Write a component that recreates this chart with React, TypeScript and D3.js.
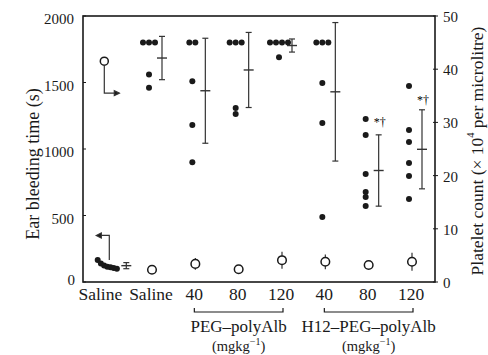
import * as d3 from "d3";

// category labels along the bottom
const groups = ["Saline", "Saline", "40", "80", "120", "40", "80", "120"];

// ear bleeding time (s), one array per group, capped at 1800 s
const bleedTimes: number[][] = [
  [165, 140, 125, 115, 105, 100, 110],
  [1800, 1800, 1800, 1560, 1460],
  [1800, 1800, 1510, 1180, 900],
  [1800, 1800, 1800, 1308, 1263],
  [1800, 1800, 1800, 1800, 1690],
  [1800, 1800, 1800, 1496, 1195, 489],
  [1226, 1105, 812, 677, 639, 571],
  [1474, 1143, 1053, 895, 797, 624],
];

// platelet count (x10^4 per microlitre)
const plateletMean = [41.5, 2.3, 3.4, 2.4, 4.1, 3.8, 3.2, 3.8];
const plateletSd = [0, 0.4, 0.9, 0.6, 1.4, 1.2, 0.5, 1.5];

const leftTicks = [0, 500, 1000, 1500, 2000];
const rightTicks = [0, 10, 20, 30, 40, 50];

// groups marked * †
const marked = [6, 7];

const brackets = [
  { label: "PEG–polyAlb", from: 2, to: 4 },
  { label: "H12–PEG–polyAlb", from: 5, to: 7 },
];

const W = 488;
const H = 355;
const box = { l: 83, r: 435, t: 16, b: 282 };
const ink = "#1a1a1a";
const font = "'Liberation Serif', 'Times New Roman', serif";

// spread tied values side by side
function spread(values: number[], tol: number, gap: number) {
  const sorted = [...values].sort((a, b) => b - a);
  const out: { v: number; dx: number }[] = [];
  let i = 0;
  while (i < sorted.length) {
    let j = i;
    while (j + 1 < sorted.length && sorted[i] - sorted[j + 1] <= tol) j++;
    const n = j - i + 1;
    for (let k = 0; k < n; k++) out.push({ v: sorted[i + k], dx: (k - (n - 1) / 2) * gap });
    i = j + 1;
  }
  return out;
}

export default function App() {
  const yL = d3.scaleLinear().domain([0, 2000]).range([box.b, box.t]);
  const yR = d3.scaleLinear().domain([0, 50]).range([box.b, box.t]);
  const xi = d3.scaleLinear().domain([1, 7]).range([151, 411]);
  const step = xi(2) - xi(1);
  const cx = (i: number) => (i === 0 ? xi(1) - step * 1.17 : xi(i));

  const stats = bleedTimes.map((vals) => ({
    mean: d3.mean(vals) ?? 0,
    sd: d3.deviation(vals) ?? 0,
  }));

  return (
    <svg
      width={W}
      height={H}
      viewBox={`0 0 ${W} ${H}`}
      style={{ position: "absolute", left: 0, top: 0, background: "#fff" }}
      fontFamily={font}
    >
      {/* frame */}
      <rect
        x={box.l}
        y={box.t}
        width={box.r - box.l}
        height={box.b - box.t}
        fill="none"
        stroke={ink}
        strokeWidth={1.6}
      />

      {/* left axis */}
      {leftTicks.map((t) => (
        <g key={`l${t}`}>
          <line x1={box.l} x2={box.l + 3} y1={yL(t)} y2={yL(t)} stroke={ink} />
          <text
            x={t === 0 ? box.l - 8 : box.l - 9}
            y={yL(t) + (t === 0 ? -2 : 3)}
            textAnchor="end"
            dominantBaseline="central"
            fontSize={15}
            fill={ink}
          >
            {t}
          </text>
        </g>
      ))}
      <text
        transform={`translate(33,${(box.t + box.b) / 2 + 15}) rotate(-90)`}
        textAnchor="middle"
        dominantBaseline="central"
        fontSize={18}
        fill={ink}
      >
        Ear bleeding time (s)
      </text>

      {/* right axis */}
      {rightTicks.map((t) => (
        <g key={`r${t}`}>
          <line x1={box.r - 2} x2={box.r + 3} y1={yR(t)} y2={yR(t)} stroke={ink} />
          <text
            x={box.r + 8}
            y={yR(t) + 1}
            textAnchor="start"
            dominantBaseline="central"
            fontSize={15}
            fill={ink}
          >
            {t}
          </text>
        </g>
      ))}
      <text
        transform={`translate(477,${(box.t + box.b) / 2 + 2}) rotate(-90)`}
        textAnchor="middle"
        dominantBaseline="central"
        fontSize={17.5}
        fill={ink}
      >
        Platelet count (× 10
        <tspan fontSize={10.5} dy={-7}>4</tspan>
        <tspan dy={7}> per microlitre)</tspan>
      </text>

      {/* category labels */}
      {groups.map((g, i) => (
        <text
          key={`g${i}`}
          x={cx(i)}
          y={box.b + 12}
          textAnchor="middle"
          dominantBaseline="central"
          fontSize={17.5}
          fill={ink}
        >
          {g}
        </text>
      ))}

      {/* brackets */}
      {brackets.map((b) => {
        const x1 = cx(b.from);
        const x2 = cx(b.to) + 2;
        const yb = box.b + 30;
        return (
          <g key={b.label}>
            <path
              d={`M${x1},${yb - 4}V${yb}H${x2}V${yb - 4}`}
              fill="none"
              stroke={ink}
              strokeWidth={1.2}
            />
            <text
              x={(x1 + x2) / 2}
              y={yb + 14}
              textAnchor="middle"
              dominantBaseline="central"
              fontSize={17}
              fill={ink}
            >
              {b.label}
            </text>
            <text
              x={(x1 + x2) / 2}
              y={yb + 34}
              textAnchor="middle"
              dominantBaseline="central"
              fontSize={14.5}
              fill={ink}
            >
              (mgkg
              <tspan fontSize={10} dy={-5}>−1</tspan>
              <tspan dy={5}>)</tspan>
            </text>
          </g>
        );
      })}

      {/* bleeding time dots + mean ± sd */}
      {bleedTimes.map((vals, i) => {
        const dotX = i === 0 ? cx(0) + 7 : cx(i) - 2;
        const barX = i === 0 ? cx(0) + 26 : cx(i) + 11;
        const pts = i === 0 ? spread(vals, 100, 3.2) : spread(vals, 5, 6);
        const s = stats[i];
        return (
          <g key={`b${i}`}>
            {pts.map((p, k) => (
              <circle key={k} cx={dotX + p.dx} cy={yL(p.v)} r={3} fill={ink} />
            ))}
            <line x1={barX} x2={barX} y1={yL(s.mean + s.sd)} y2={yL(s.mean - s.sd)} stroke="#333" strokeWidth={1.2} />
            <line x1={barX - 3} x2={barX + 3} y1={yL(s.mean + s.sd)} y2={yL(s.mean + s.sd)} stroke="#333" strokeWidth={1.2} />
            <line x1={barX - 3} x2={barX + 3} y1={yL(s.mean - s.sd)} y2={yL(s.mean - s.sd)} stroke="#333" strokeWidth={1.2} />
            <line x1={barX - 5} x2={barX + 5} y1={yL(s.mean)} y2={yL(s.mean)} stroke="#333" strokeWidth={1.4} />
          </g>
        );
      })}

      {/* * † markers */}
      {marked.map((i) => {
        const s = stats[i];
        const top = d3.max(bleedTimes[i]) ?? 0;
        const yy = i === 6 ? yL(top) + 3 : yL(s.mean + s.sd) - 10;
        return (
          <text
            key={`m${i}`}
            x={cx(i) + 6}
            y={yy}
            fontSize={12}
            dominantBaseline="central"
            fill="#000"
            style={{ WebkitFontSmoothing: "antialiased" }}
          >
            *†
          </text>
        );
      })}

      {/* platelet counts: open circles with sd */}
      {plateletMean.map((m, i) => {
        const px = i === 0 ? cx(0) + 4 : cx(i) + 1;
        const sd = plateletSd[i];
        return (
          <g key={`p${i}`}>
            {sd > 0 && (
              <line x1={px} x2={px} y1={yR(m + sd) - 1} y2={yR(m - sd) + 1} stroke="#333" strokeWidth={1.2} />
            )}
            <circle cx={px} cy={yR(m)} r={i === 0 ? 4 : 4.3} fill="#fff" stroke={ink} strokeWidth={1.5} />
          </g>
        );
      })}

      {/* legend arrows in first group: open -> right axis, filled -> left axis */}
      {(() => {
        const ox = cx(0) + 4;
        const oy = yR(plateletMean[0]);
        const turn = yR(35.5);
        const fx = cx(0) + 9;
        const fTop = yL(d3.max(bleedTimes[0]) ?? 0);
        const fTurn = yL(350);
        return (
          <g stroke="#333" strokeWidth={1.2} fill="none">
            <path d={`M${ox},${oy + 4}V${turn}H${ox + 11}`} />
            <path d={`M${ox + 15},${turn}l-5,-2.5v5z`} fill={ink} />
            <path d={`M${fx},${fTop}V${fTurn}H${cx(0) - 1}`} />
            <path d={`M${cx(0) - 4},${fTurn}l5,-2.5v5z`} fill={ink} />
          </g>
        );
      })()}
    </svg>
  );
}
